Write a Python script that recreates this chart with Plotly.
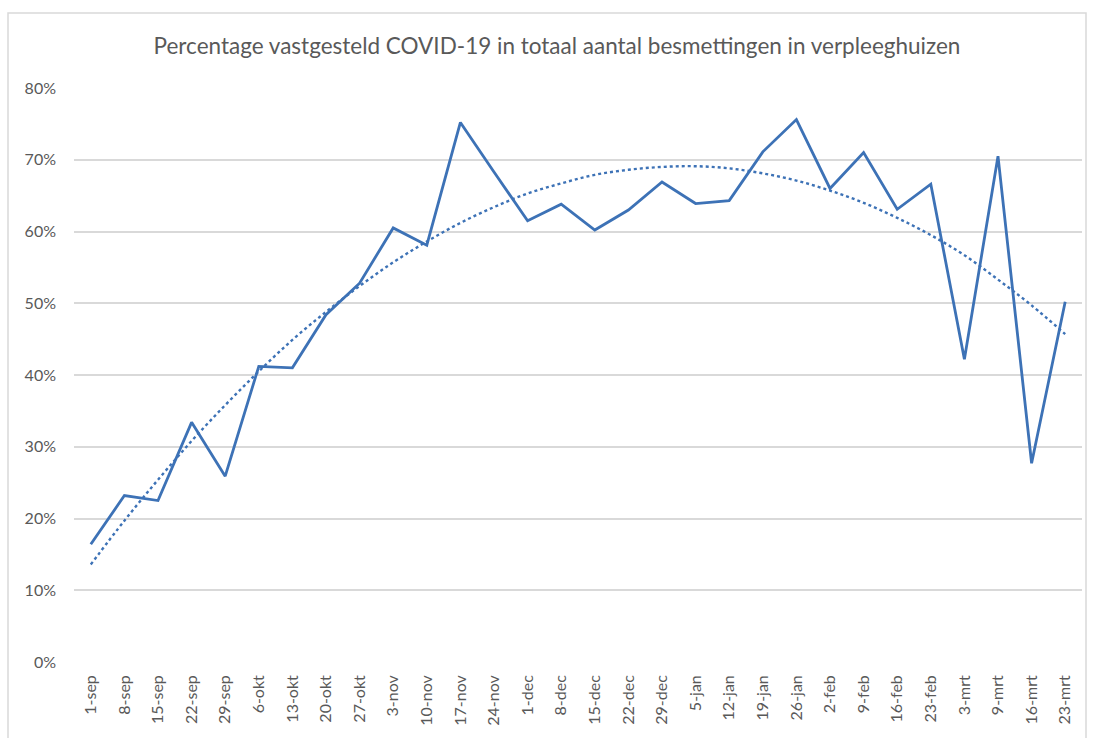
import plotly.graph_objects as go

categories = ["1-sep", "8-sep", "15-sep", "22-sep", "29-sep", "6-okt", "13-okt", "20-okt",
              "27-okt", "3-nov", "10-nov", "17-nov", "24-nov", "1-dec", "8-dec", "15-dec",
              "22-dec", "29-dec", "5-jan", "12-jan", "19-jan", "26-jan", "2-feb", "9-feb",
              "16-feb", "23-feb", "3-mrt", "9-mrt", "16-mrt", "23-mrt"]

percentage = [16.4, 23.2, 22.5, 33.4, 25.9, 41.2, 41.0, 48.4, 52.8, 60.5,
              58.1, 75.2, 68.3, 61.5, 63.8, 60.2, 63.0, 66.9, 63.9, 64.3,
              71.1, 75.6, 66.0, 71.0, 63.1, 66.6, 42.2, 70.5, 27.7, 50.2]

trend = [13.6, 19.7, 25.4, 30.8, 35.8, 40.5, 44.9, 48.8, 52.4, 55.7,
         58.6, 61.2, 63.4, 65.3, 66.7, 67.9, 68.6, 69.0, 69.1, 68.8,
         68.1, 67.1, 65.7, 64.0, 61.9, 59.5, 56.7, 53.3, 49.7, 45.7]

y_ticks = [0, 10, 20, 30, 40, 50, 60, 70, 80]
y_labels = [f"{v}%" for v in y_ticks]

title_text = "Percentage vastgesteld COVID-19 in totaal aantal besmettingen in verpleeghuizen"

blue = "#3d72b6"
gray_text = "#595959"
font_family = "Lato, 'Open Sans', sans-serif"

fig = go.Figure()
fig.add_trace(go.Scatter(x=categories, y=percentage, mode="lines",
                         line=dict(color=blue, width=2.8), showlegend=False))
fig.add_trace(go.Scatter(x=categories, y=trend, mode="lines",
                         line=dict(color=blue, width=2.4, dash="dot", shape="spline"),
                         showlegend=False))

fig.update_layout(
    width=1093, height=738,
    margin=dict(l=74, r=11, t=88, b=76),
    paper_bgcolor="white", plot_bgcolor="white",
    title=dict(text=title_text, xref="container", x=557 / 1093, xanchor="center",
               yref="container", y=1 - 46 / 738, yanchor="middle",
               font=dict(family=font_family, size=22.5, color=gray_text)),
    font=dict(family=font_family, color=gray_text),
    xaxis=dict(type="category", range=[-0.5, 29.5], tickangle=-90,
               showgrid=False, zeroline=False, showline=False, ticks="",
               ticklabelstandoff=9,
               tickfont=dict(size=16, color=gray_text)),
    yaxis=dict(range=[0, 80], tickvals=y_ticks, ticktext=y_labels,
               showgrid=True, gridcolor="#d9d9d9", gridwidth=1.5,
               zeroline=False, showline=False, ticks="", ticklabelstandoff=17,
               tickfont=dict(size=16, color=gray_text)),
    shapes=[dict(type="rect", xref="paper", yref="paper",
                 x0=(8 - 74) / 1008, x1=(1086 - 74) / 1008,
                 y0=(662 - 745) / 574, y1=(662 - 13) / 574,
                 line=dict(color="#d9d9d9", width=1.5), layer="below")],
)

fig.write_html("out.html", config={"displayModeBar": False},
               post_script="document.body.style.margin='0';")
